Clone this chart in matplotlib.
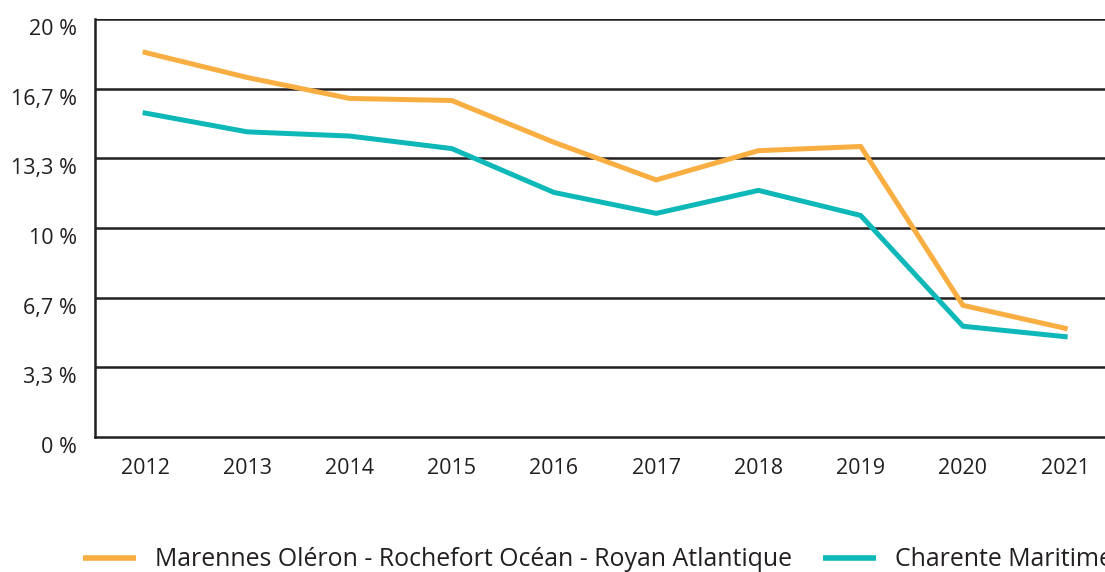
import numpy as np
import matplotlib.pyplot as plt
import matplotlib.transforms as mtransforms
from matplotlib.ticker import FixedLocator

plt.rcParams['font.family'] = ['Open Sans', 'DejaVu Sans']

# part des ... par an, en %
years = [2012, 2013, 2014, 2015, 2016, 2017, 2018, 2019, 2020, 2021]
mor = [18.4, 17.2, 16.2, 16.1, 14.1, 12.3, 13.7, 13.9, 6.3, 5.2]
cm = [15.5, 14.6, 14.4, 13.8, 11.7, 10.7, 11.8, 10.6, 5.3, 4.8]

y_ticks = [0, 10 / 3, 20 / 3, 10, 40 / 3, 50 / 3, 20]
y_labels = ['0 %', '3,3 %', '6,7 %', '10 %', '13,3 %', '16,7 %', '20 %']

label_mor = 'Marennes Oléron - Rochefort Océan - Royan Atlantique'
label_cm = 'Charente Maritime'

ORANGE = '#F9AE42'
TEAL = '#0EB8B8'
INK = '#231F20'

W, H = 1105, 572
fig = plt.figure(figsize=(W / 100, H / 100), dpi=100)
ax = fig.add_axes([95 / W, (H - 437) / H, 1 - 95 / W, (437 - 19) / H])

ax.plot(years, mor, color=ORANGE, lw=3.6, solid_joinstyle='miter', label=label_mor, zorder=3)
ax.plot(years, cm, color=TEAL, lw=3.6, solid_joinstyle='miter', label=label_cm, zorder=3)

ax.set_xlim(2011.51, 2021.39)
ax.set_ylim(0, 20)
ax.set_xticks(years)
ax.set_xticklabels([str(y) for y in years])
ax.yaxis.set_major_locator(FixedLocator(y_ticks))
ax.set_yticklabels(y_labels)

for y in y_ticks[1:]:
    ax.axhline(y, color=INK, lw=1.8, zorder=1)

for side in ['top', 'right']:
    ax.spines[side].set_visible(False)
for side in ['left', 'bottom']:
    ax.spines[side].set_color(INK)
    ax.spines[side].set_linewidth(1.8)

ax.tick_params(axis='both', length=0, labelsize=15.5, colors=INK)
ax.tick_params(axis='y', pad=13)
ax.tick_params(axis='x', pad=15)

# y labels sit a little below their gridline
shift = mtransforms.ScaledTranslation(0, -0.08, fig.dpi_scale_trans)
for lab in ax.get_yticklabels():
    lab.set_transform(lab.get_transform() + shift)

leg = ax.legend(loc='center left', bbox_to_anchor=(83 / W, 1 - 560 / H),
                bbox_transform=fig.transFigure, ncol=2, frameon=False,
                fontsize=17.9, handlelength=2.13, handletextpad=0.76,
                columnspacing=1.25, borderpad=0, borderaxespad=0)
for line in leg.get_lines():
    line.set_linewidth(4)
    line.set_solid_capstyle('butt')
for t in leg.get_texts():
    t.set_color(INK)

fig.savefig('out.png', dpi=100)
